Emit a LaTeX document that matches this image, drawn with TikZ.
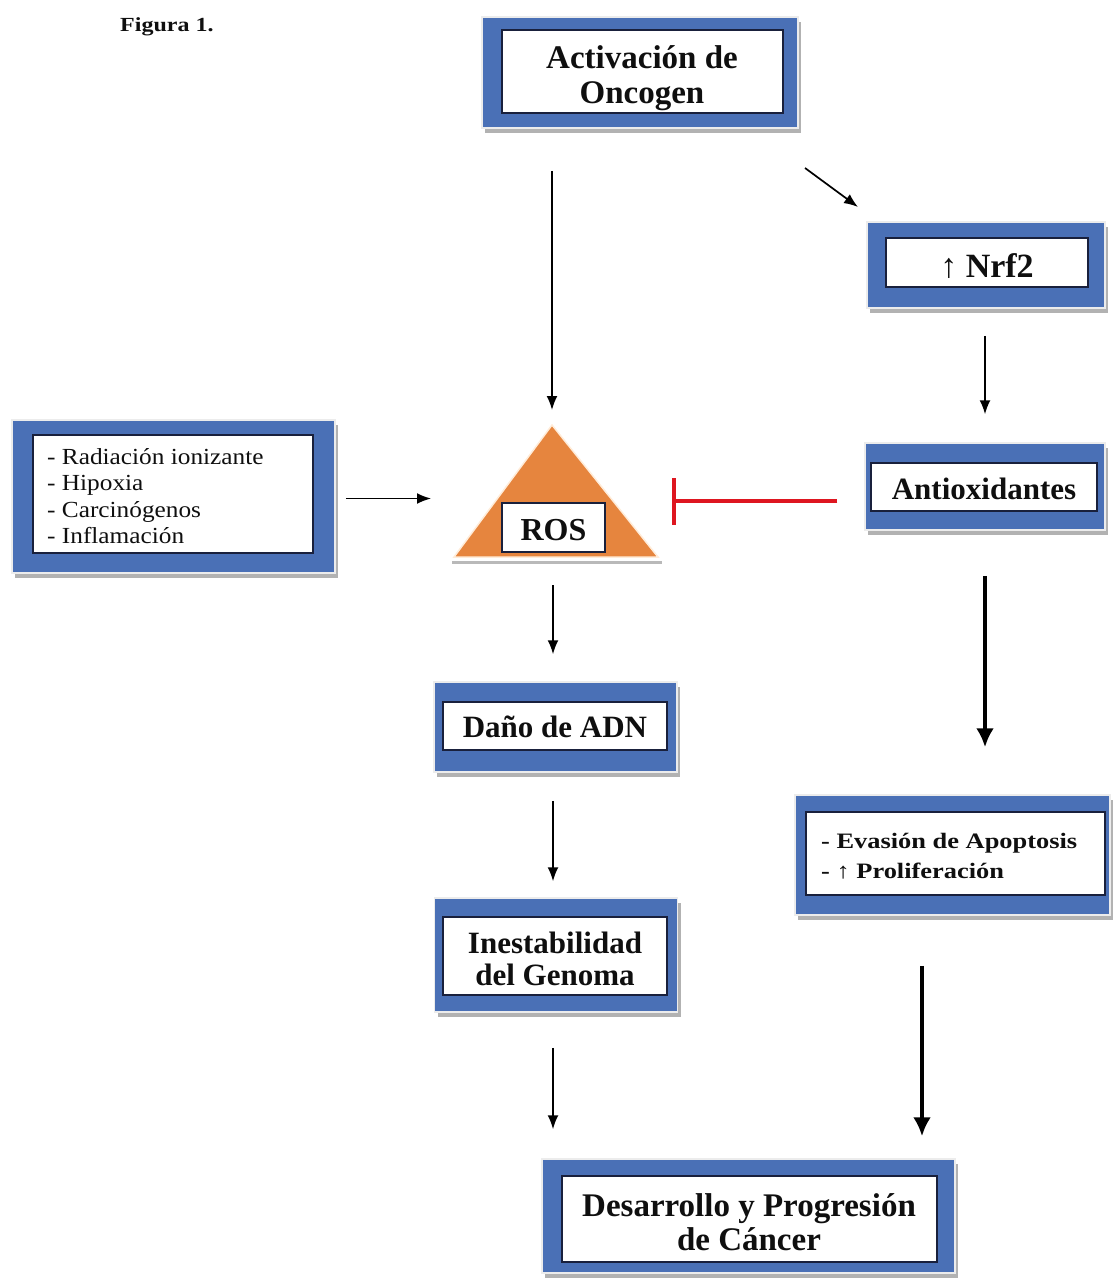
\documentclass[tikz,border=0pt]{standalone}
\usepackage{fontspec}
\setmainfont{Liberation Serif}
\newfontfamily\widefont[FakeStretch=1.2]{Liberation Serif}
\newfontfamily\semiwide[FakeStretch=1.1]{Liberation Serif}
\usetikzlibrary{arrows.meta,shadows}
\definecolor{boxblue}{RGB}{74,112,182}
\definecolor{rosorange}{RGB}{230,133,62}
\definecolor{inhred}{RGB}{222,22,32}
\definecolor{navy}{RGB}{25,32,60}
\definecolor{txt}{RGB}{15,15,15}
\tikzset{
 outerbox/.style={fill=boxblue, draw=gray!15, line width=1.5pt, inner sep=0pt,
   drop shadow={shadow xshift=3pt, shadow yshift=-5pt, fill=gray!60, opacity=1}},
 innerbox/.style={fill=white, draw=navy, line width=2pt, inner sep=0pt},
 plaintext/.style={inner sep=0pt, align=center, text=txt},
 boxtext/.style={plaintext, font=\bfseries\fontsize{31}{35}\selectfont},
 thinarrow/.style={line width=1.7pt, -{Latex[length=14pt,width=11pt]}},
 thickarrow/.style={line width=4.5pt, -{Latex[length=19pt,width=18pt]}},
}
\begin{document}
\begin{tikzpicture}[x=1pt,y=-1pt]
\useasboundingbox (0,0) rectangle (1113,1280);

\node[plaintext, anchor=west, font=\widefont\bfseries\fontsize{20}{22}\selectfont] (fig) at (120,27) {Figura 1.};

% Activacion de Oncogen
\node[outerbox, minimum width=316pt, minimum height=111pt] (onco) at (640,72.5) {};
\node[innerbox, minimum width=281pt, minimum height=83pt] (oncoT) at (642.5,71.5) {};
\node[boxtext, font=\bfseries\fontsize{33}{35}\selectfont] (oncoL) at (642,78) {Activación de\\Oncogen};

% Nrf2
\node[outerbox, minimum width=238pt, minimum height=86pt] (nrf) at (986,265) {};
\node[innerbox, minimum width=202pt, minimum height=49pt] (nrfT) at (987,262.5) {};
\node[boxtext, font=\bfseries\fontsize{34}{36}\selectfont] (nrfL) at (987,266) {↑ Nrf2};

% Antioxidantes
\node[outerbox, minimum width=240pt, minimum height=87pt] (antiox) at (985,486.5) {};
\node[innerbox, minimum width=226pt, minimum height=48pt] (antioxT) at (984,487) {};
\node[boxtext] (antioxL) at (984,489) {Antioxidantes};

% Left box
\node[outerbox, minimum width=323pt, minimum height=153pt] (left) at (173.5,496.5) {};
\node[innerbox, minimum width=280pt, minimum height=118pt] (leftT) at (173,494) {};
\node[plaintext, align=left, anchor=west, font=\semiwide\fontsize{23}{26.3}\selectfont] (leftL) at (47,496)
  {- Radiación ionizante\\- Hipoxia\\- Carcinógenos\\- Inflamación};

% ROS triangle
\coordinate (rosApex) at (552,425);
\coordinate (rosS) at (553,563);
\draw[gray!55, line width=3pt] (452,562) -- (662,562);
\filldraw[fill=rosorange, draw=orange!15, line width=1.5pt] (rosApex) -- (658,557) -- (454,557) -- cycle;
\node[innerbox, minimum width=103pt, minimum height=49pt] (ros) at (553.5,527.5) {};
\node[boxtext, font=\bfseries\fontsize{32}{34}\selectfont] (rosL) at (553.5,530) {ROS};

% Dano de ADN
\node[outerbox, minimum width=243pt, minimum height=90pt] (dano) at (555.5,727) {};
\node[innerbox, minimum width=224pt, minimum height=48pt] (danoT) at (555,726) {};
\node[boxtext] (danoL) at (555,727) {Daño de ADN};

% Inestabilidad
\node[outerbox, minimum width=243pt, minimum height=114pt] (inest) at (556,955) {};
\node[innerbox, minimum width=224pt, minimum height=78pt] (inestT) at (555,956) {};
\node[boxtext, font=\bfseries\fontsize{31}{32}\selectfont] (inestL) at (555,959) {Inestabilidad\\del Genoma};

% Evasion
\node[outerbox, minimum width=315pt, minimum height=120pt] (evas) at (952.5,855) {};
\node[innerbox, minimum width=299pt, minimum height=83pt] (evasT) at (955.5,853.5) {};
\node[plaintext, align=left, anchor=west, font=\widefont\bfseries\fontsize{22}{30}\selectfont] (evasL) at (821,856)
  {- Evasión de Apoptosis\\- ↑ Proliferación};

% Desarrollo
\node[outerbox, minimum width=413pt, minimum height=114pt] (bottom) at (748.5,1216) {};
\node[innerbox, minimum width=375pt, minimum height=86pt] (bottomT) at (749.5,1219) {};
\node[boxtext, font=\bfseries\fontsize{33}{34}\selectfont] (bottomL) at (749,1222) {Desarrollo y Progresión\\de Cáncer};

% connectors
\draw[thinarrow, shorten <=42pt, shorten >=15pt] (onco.south -| rosApex) -- (rosApex);
\coordinate (d1) at (805,168);
\coordinate (d2) at (858,207);
\draw[thinarrow] (d1) -- (d2);
\draw[thinarrow, shorten <=27pt, shorten >=28pt] (nrf.south -| antiox.north) -- (antiox.north);
\draw[thinarrow, shorten <=10pt, shorten >=70pt] ([yshift=-2pt]left.east) -- ([yshift=-2pt]left.east -| ros.west);
\coordinate (inhEnd) at (672,501);
\draw[inhred, line width=4pt, -{Bar[width=47pt]}, shorten <=27pt] (antiox.west |- inhEnd) -- (inhEnd);
\draw[thinarrow, shorten <=22pt, shorten >=27pt] (rosS) -- (dano.north -| rosS);
\draw[thinarrow, shorten <=28pt, shorten >=16pt] (dano.south -| rosS) -- (inest.north -| rosS);
\draw[thinarrow, shorten <=35pt, shorten >=29pt] (inest.south -| rosS) -- (bottom.north -| rosS);
\draw[thickarrow, shorten <=45pt, shorten >=47pt] (antiox.south) -- (evas.north -| antiox.south);
\coordinate (t2) at (922,1000);
\draw[thickarrow, shorten <=50pt, shorten >=22pt] (evas.south -| t2) -- (bottom.north -| t2);
\end{tikzpicture}
\end{document}
